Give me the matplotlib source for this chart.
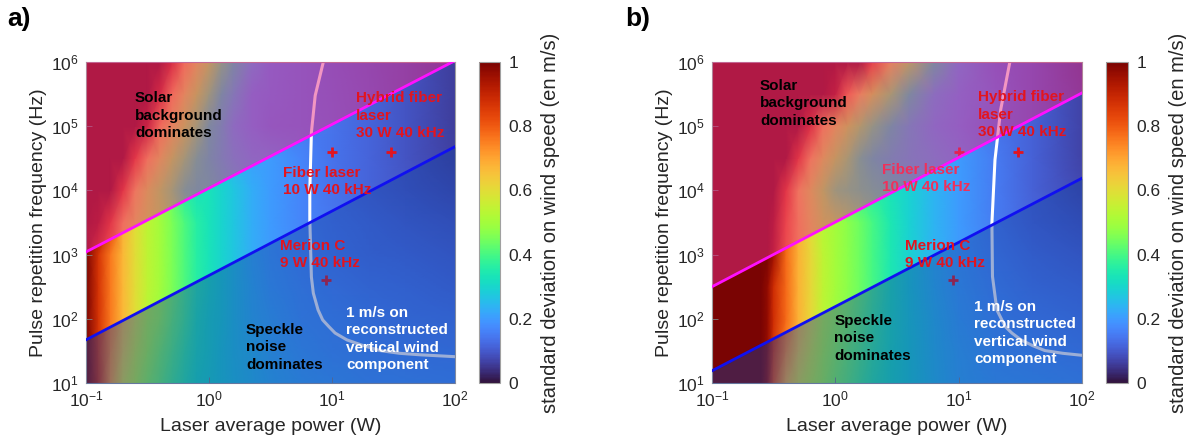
import numpy as np
import matplotlib
matplotlib.use("Agg")
import matplotlib.pyplot as plt

plt.rcParams['font.family'] = ['Liberation Sans', 'DejaVu Sans']
plt.rcParams['mathtext.fontset'] = 'custom'
plt.rcParams['mathtext.rm'] = 'Liberation Sans'
plt.rcParams['mathtext.it'] = 'Liberation Sans:italic'
plt.rcParams['mathtext.bf'] = 'Liberation Sans:bold'

# ---------------- data ----------------
# panel a : standard deviation (m/s) read on a grid of laser power (W) x PRF (Hz)
a_power = [0.1, 0.126, 0.158, 0.2, 0.251, 0.316, 0.398, 0.501, 0.631, 0.794,
           1.0, 1.26, 1.58, 2.24, 3.16, 5.62, 10.0, 20.0, 39.8, 100]
a_prf = [1e1, 3.16e1, 1e2, 3.16e2, 1e3, 3.16e3, 1e4, 3.16e4, 1e5, 3.16e5, 1e6]
a_sigma = [
    [1.0, 0.88, 0.72, 0.60, 0.54, 0.48, 0.44, 0.40, 0.365, 0.33, 0.31, 0.29, 0.275, 0.255, 0.235, 0.215, 0.205, 0.195, 0.19, 0.18],
    [1.0, 0.87, 0.74, 0.64, 0.57, 0.51, 0.46, 0.42, 0.38, 0.34, 0.32, 0.29, 0.27, 0.25, 0.23, 0.205, 0.19, 0.18, 0.175, 0.165],
    [1.0, 0.87, 0.76, 0.67, 0.60, 0.53, 0.49, 0.44, 0.40, 0.35, 0.32, 0.30, 0.27, 0.24, 0.22, 0.195, 0.18, 0.17, 0.16, 0.15],
    [1.0, 0.87, 0.76, 0.67, 0.60, 0.54, 0.50, 0.455, 0.41, 0.36, 0.33, 0.30, 0.27, 0.235, 0.21, 0.185, 0.17, 0.155, 0.145, 0.13],
    [1.0, 0.87, 0.76, 0.67, 0.60, 0.54, 0.50, 0.455, 0.41, 0.36, 0.33, 0.30, 0.27, 0.23, 0.20, 0.175, 0.155, 0.14, 0.13, 0.115],
    [1.0, 0.97, 0.85, 0.68, 0.60, 0.54, 0.50, 0.455, 0.41, 0.36, 0.33, 0.30, 0.27, 0.23, 0.20, 0.165, 0.145, 0.13, 0.115, 0.10],
    [1.0, 1.0, 1.0, 0.85, 0.66, 0.57, 0.49, 0.43, 0.36, 0.33, 0.33, 0.30, 0.27, 0.23, 0.20, 0.165, 0.14, 0.115, 0.10, 0.08],
    [1.0, 1.0, 1.0, 1.0, 0.84, 0.68, 0.59, 0.50, 0.43, 0.36, 0.31, 0.27, 0.24, 0.21, 0.20, 0.165, 0.14, 0.115, 0.09, 0.065],
    [1.0, 1.0, 1.0, 1.0, 1.0, 0.93, 0.70, 0.61, 0.52, 0.43, 0.33, 0.28, 0.22, 0.18, 0.16, 0.15, 0.14, 0.115, 0.09, 0.06],
    [1.0, 1.0, 1.0, 1.0, 1.0, 1.0, 0.90, 0.70, 0.60, 0.51, 0.42, 0.32, 0.26, 0.18, 0.165, 0.15, 0.135, 0.115, 0.09, 0.06],
    [1.0, 1.0, 1.0, 1.0, 1.0, 1.0, 1.0, 0.89, 0.70, 0.60, 0.50, 0.40, 0.32, 0.22, 0.17, 0.15, 0.13, 0.11, 0.09, 0.06],
]
a_solar_P = [0.1, 100]
a_solar_F = [1.1e3, 1.05e6]
a_speckle_P = [0.1, 100]
a_speckle_F = [47, 4.8e4]
a_contour_P = [8.5, 7.3, 6.8, 6.6, 6.6, 6.8, 7.05, 7.7, 8.4, 9.4, 10.6, 13.2, 17.4, 24.6, 35.5, 52, 100]
a_contour_F = [1e6, 3e5, 8e4, 1e4, 3.5e3, 447, 251, 138, 96, 76, 60, 47, 39, 32, 29, 27.5, 25.7]

# panel b
b_power = [0.1, 0.158, 0.251, 0.282, 0.316, 0.398, 0.501, 0.631, 0.794, 1.0,
           1.26, 1.58, 2.0, 2.82, 3.98, 6.31, 10.0, 20.0, 39.8, 100]
b_prf = [1e1, 3.16e1, 1e2, 3.16e2, 1e3, 3.16e3, 1e4, 3.16e4, 1e5, 3.16e5, 1e6]
b_sigma = [
    [1, 1, 1, 0.95, 0.82, 0.68, 0.60, 0.55, 0.50, 0.46, 0.43, 0.40, 0.37, 0.33, 0.30, 0.26, 0.23, 0.21, 0.20, 0.19],
    [1, 1, 1, 0.965, 0.86, 0.74, 0.645, 0.58, 0.52, 0.48, 0.445, 0.415, 0.38, 0.333, 0.297, 0.255, 0.223, 0.198, 0.184, 0.171],
    [1, 1, 1, 0.97, 0.88, 0.78, 0.68, 0.61, 0.537, 0.494, 0.461, 0.429, 0.39, 0.336, 0.294, 0.25, 0.216, 0.186, 0.168, 0.153],
    [1, 1, 1, 0.97, 0.88, 0.78, 0.68, 0.61, 0.54, 0.50, 0.47, 0.44, 0.40, 0.34, 0.292, 0.245, 0.209, 0.174, 0.151, 0.134],
    [1, 1, 1, 1, 0.95, 0.78, 0.68, 0.61, 0.54, 0.50, 0.47, 0.44, 0.40, 0.34, 0.29, 0.24, 0.203, 0.162, 0.135, 0.115],
    [1, 1, 1, 1, 0.97, 0.80, 0.68, 0.60, 0.53, 0.50, 0.47, 0.44, 0.40, 0.34, 0.29, 0.24, 0.20, 0.15, 0.119, 0.096],
    [1, 1, 1, 1, 1, 0.85, 0.67, 0.58, 0.49, 0.42, 0.40, 0.38, 0.36, 0.33, 0.29, 0.24, 0.20, 0.15, 0.11, 0.077],
    [1, 1, 1, 1, 1, 1, 0.85, 0.67, 0.58, 0.50, 0.44, 0.37, 0.32, 0.28, 0.25, 0.23, 0.20, 0.15, 0.11, 0.07],
    [1, 1, 1, 1, 1, 1, 1, 0.87, 0.68, 0.60, 0.53, 0.46, 0.40, 0.32, 0.26, 0.21, 0.18, 0.14, 0.11, 0.07],
    [1, 1, 1, 1, 1, 1, 1, 1, 1, 0.95, 0.74, 0.63, 0.55, 0.44, 0.33, 0.23, 0.19, 0.15, 0.11, 0.07],
    [1, 1, 1, 1, 1, 1, 1, 1, 1, 1, 1, 1, 0.81, 0.62, 0.48, 0.33, 0.21, 0.14, 0.11, 0.06],
]
b_solar_P = [0.1, 100]
b_solar_F = [316, 3.3e5]
b_speckle_P = [0.1, 100]
b_speckle_F = [15.5, 1.55e4]
b_contour_P = [26, 21.9, 19.7, 18.6, 18.8, 20.4, 23.8, 27, 32, 40, 50, 70, 100]
b_contour_F = [1e6, 1.8e5, 3e4, 3.1e3, 457, 138, 76, 60, 47, 38, 32, 29, 27]

laser_P = [10, 30, 9]
laser_F = [4e4, 4e4, 400]

xticks = [0.1, 1, 10, 100]
yticks = [1e1, 1e2, 1e3, 1e4, 1e5, 1e6]
cbar_ticks = [0, 0.2, 0.4, 0.6, 0.8, 1]
cbar_labels = ['0', '0.2', '0.4', '0.6', '0.8', '1']

# ---------------- drawing ----------------
W, H = 1186, 443
fig = plt.figure(figsize=(W / 100, H / 100), dpi=100)


def fpos(x0, y0, x1, y1):
    return [x0 / W, 1 - y1 / H, (x1 - x0) / W, (y1 - y0) / H]


TOP_TINT = (0.90, 0.18, 0.53)
BOT_TINT = (0.08, 0.25, 0.62)
RED = '#E3141E'
TXT = '#262626'


def panel(ax_box, cb_box, power, prf, sigma, solar_P, solar_F, speck_P, speck_F,
          cP, cF, texts, letter, letter_x):
    ax = fig.add_axes(fpos(*ax_box))
    cax = fig.add_axes(fpos(*cb_box))
    ax.set_xscale('log')
    ax.set_yscale('log')
    m = ax.pcolormesh(power, prf, np.array(sigma), shading='gouraud', cmap='turbo',
                      vmin=0, vmax=1, zorder=1, rasterized=True)
    ax.plot(cP, cF, color='white', lw=2.2, zorder=2)
    ax.plot(laser_P, laser_F, ls='none', marker='+', ms=7, mew=2, color=RED, zorder=2.5)
    ax.fill_between(solar_P, solar_F, [1e8, 1e8], color=TOP_TINT, alpha=0.5, lw=0, zorder=3)
    ax.fill_between(speck_P, [1, 1], speck_F, color=BOT_TINT, alpha=0.42, lw=0, zorder=3)
    ax.plot(solar_P, solar_F, color='#FF10FF', lw=2, zorder=4)
    ax.plot(speck_P, speck_F, color='#1010F0', lw=2, zorder=4)
    ax.set_xlim(0.1, 100)
    ax.set_ylim(10, 1e6)
    ax.set_xticks(xticks)
    ax.set_yticks(yticks)
    ax.minorticks_off()
    ax.tick_params(direction='in', length=4, width=0.6, color='#808080', labelsize=12.5,
                   labelcolor=TXT, pad=5)
    for s in ax.spines.values():
        s.set_color('#a0a0a0')
        s.set_linewidth(0.8)
    ax.set_xlabel('Laser average power (W)', fontsize=14, color=TXT, labelpad=6)
    ax.set_ylabel('Pulse repetition frequency (Hz)', fontsize=14, color=TXT, labelpad=3)
    for (x, y, s, c) in texts:
        ax.text(x, y, s, color=c, fontsize=11, fontweight='bold', ha='left', va='top',
                zorder=5, linespacing=1.3)
    cb = fig.colorbar(m, cax=cax, ticks=cbar_ticks)
    cb.ax.set_yticklabels(cbar_labels)
    cb.ax.tick_params(labelsize=12.5, labelcolor=TXT, length=0, pad=6)
    cb.outline.set_edgecolor('#a0a0a0')
    cb.outline.set_linewidth(0.8)
    cb.set_label('standard deviation on wind speed (en m/s)', fontsize=14.5, color=TXT,
                 labelpad=6)
    fig.text(letter_x, 0.985, letter, fontsize=19, fontweight='bold', ha='left', va='top',
             color='black')
    return ax


texts_a = [
    (0.25, 3.5e5, 'Solar\nbackground\ndominates', 'black'),
    (15.7, 3.5e5, 'Hybrid fiber\nlaser\n30 W 40 kHz', RED),
    (4.0, 2.4e4, 'Fiber laser\n10 W 40 kHz', RED),
    (3.78, 1.74e3, 'Merion C\n9 W 40 kHz', RED),
    (2.0, 86, 'Speckle\nnoise\ndominates', 'black'),
    (13.0, 158, '1 m/s on\nreconstructed\nvertical wind\ncomponent', 'white'),
]
texts_b = [
    (0.245, 5.4e5, 'Solar\nbackground\ndominates', 'black'),
    (14.3, 3.6e5, 'Hybrid fiber\nlaser\n30 W 40 kHz', RED),
    (2.38, 2.7e4, 'Fiber laser\n10 W 40 kHz', '#F0305A'),
    (3.67, 1.78e3, 'Merion C\n9 W 40 kHz', RED),
    (0.98, 119, 'Speckle\nnoise\ndominates', 'black'),
    (13.4, 195, '1 m/s on\nreconstructed\nvertical wind\ncomponent', 'white'),
]

panel((86, 62, 455, 383), (479, 62, 500, 383), a_power, a_prf, a_sigma,
      a_solar_P, a_solar_F, a_speckle_P, a_speckle_F, a_contour_P, a_contour_F,
      texts_a, 'a)', 0.006)
panel((712, 62, 1082, 383), (1106, 62, 1128, 383), b_power, b_prf, b_sigma,
      b_solar_P, b_solar_F, b_speckle_P, b_speckle_F, b_contour_P, b_contour_F,
      texts_b, 'b)', 0.527)

fig.savefig('out.png', dpi=100)
